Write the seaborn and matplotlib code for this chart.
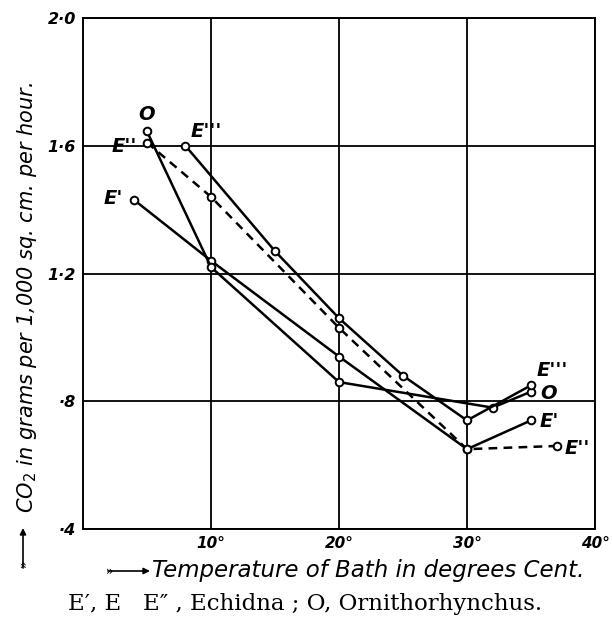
import numpy as np
import pandas as pd
import matplotlib
matplotlib.use("Agg")
import matplotlib.pyplot as plt
import seaborn as sns

# ---- data ----
e1_temp = [4, 10, 20, 30, 35]
e1_co2 = [1.43, 1.24, 0.94, 0.65, 0.74]
o_temp = [5, 10, 20, 32, 35]
o_co2 = [1.645, 1.22, 0.86, 0.78, 0.83]
e2_temp = [5, 10, 20, 30, 37]
e2_co2 = [1.61, 1.44, 1.03, 0.65, 0.66]
e3_temp = [8, 15, 20, 25, 30, 35]
e3_co2 = [1.60, 1.27, 1.06, 0.88, 0.74, 0.85]

series_names = ["E'", "O", "E''", "E'''"]

x_ticks = [10, 20, 30, 40]
x_tick_labels = ["10\u00b0", "20\u00b0", "30\u00b0", "40\u00b0"]
y_ticks = [0.4, 0.8, 1.2, 1.6, 2.0]
y_tick_labels = ["\u00b74", "\u00b78", "1\u00b72", "1\u00b76", "2\u00b70"]

x_label = "Temperature of Bath in degrees Cent."
y_label = "CO$_2$ in grams per 1,000 sq. cm. per hour."
caption = "E\u2032, E   E\u2033 , Echidna ; O, Ornithorhynchus."

# ---- figure ----
sns.set_style("white")
plt.rcParams["font.family"] = ["DejaVu Sans"]
for k in ["text.color", "axes.labelcolor", "xtick.color", "ytick.color"]:
    plt.rcParams[k] = "black"

fig = plt.figure(figsize=(6.12, 6.19), dpi=100)
ax = fig.add_axes([83 / 612, 1 - 529 / 619, 512 / 612, 511 / 619])

series = [
    (series_names[0], e1_temp, e1_co2, "-"),
    (series_names[1], o_temp, o_co2, "-"),
    (series_names[2], e2_temp, e2_co2, (0, (3.5, 2.5))),
    (series_names[3], e3_temp, e3_co2, "-"),
]
for name, xs, ys, ls in series:
    df = pd.DataFrame({"temp": xs, "co2": ys})
    sns.lineplot(data=df, x="temp", y="co2", ax=ax, color="black",
                 linewidth=1.8, linestyle=ls, marker="o", markersize=5.5,
                 markerfacecolor="white", markeredgecolor="black",
                 markeredgewidth=1.4, legend=False)

ax.set_xlim(0, 40)
ax.set_ylim(0.4, 2.0)
ax.set_xticks(x_ticks)
ax.set_xticklabels(x_tick_labels, fontsize=11, fontweight="bold", style="italic")
ax.set_yticks(y_ticks)
ax.set_yticklabels(y_tick_labels, fontsize=11.5, fontweight="bold", style="italic")
ax.tick_params(length=0, pad=5)
ax.grid(True, color="black", linewidth=1.3)
for sp in ax.spines.values():
    sp.set_visible(True)
    sp.set_color("black")
    sp.set_linewidth(1.4)

# series labels
lab_kw = dict(textcoords="offset points", fontsize=14, fontweight="bold",
              style="italic", ha="center", va="center")
ax.annotate(series_names[1], (o_temp[0], o_co2[0]), xytext=(0, 12), **lab_kw)
ax.annotate(series_names[2], (e2_temp[0], e2_co2[0]), xytext=(-16, -3), **lab_kw)
ax.annotate(series_names[3], (e3_temp[0], e3_co2[0]), xytext=(15, 10), **lab_kw)
ax.annotate(series_names[0], (e1_temp[0], e1_co2[0]), xytext=(-15, 1), **lab_kw)
ax.annotate(series_names[3], (e3_temp[-1], e3_co2[-1]), xytext=(15, 11), **lab_kw)
ax.annotate(series_names[1], (o_temp[-1], o_co2[-1]), xytext=(13, -1), **lab_kw)
ax.annotate(series_names[0], (e1_temp[-1], e1_co2[-1]), xytext=(13, -1), **lab_kw)
ax.annotate(series_names[2], (e2_temp[-1], e2_co2[-1]), xytext=(15, -2), **lab_kw)

# axis labels
ax.set_xlabel(x_label, fontsize=16.5, style="italic", ha="left", va="center")
ax.xaxis.set_label_coords((152 - 83) / 512, (529 - 571) / 511)
ax.set_ylabel(y_label, fontsize=15, style="italic", ha="center", va="center")
ax.yaxis.set_label_coords((27 - 83) / 512, (529 - 297) / 511)

# arrows by the axis labels
ax.annotate("", xy=(150 / 612, 1 - 571 / 619), xytext=(108 / 612, 1 - 571 / 619),
            xycoords="figure fraction", textcoords="figure fraction",
            arrowprops=dict(arrowstyle="-|>", lw=1.2, color="black",
                            mutation_scale=9, shrinkA=0, shrinkB=0))
fig.text(110 / 612, 1 - 571 / 619, "\u00bb", fontsize=9, ha="center", va="center")
ax.annotate("", xy=(23 / 612, 1 - 528 / 619), xytext=(23 / 612, 1 - 568 / 619),
            xycoords="figure fraction", textcoords="figure fraction",
            arrowprops=dict(arrowstyle="-|>", lw=1.2, color="black",
                            mutation_scale=9, shrinkA=0, shrinkB=0))
fig.text(23 / 612, 1 - 563 / 619, "\u00bb", fontsize=9, ha="center", va="center",
         rotation=90)

# caption
fig.text(305 / 612, 1 - 604 / 619, caption, fontsize=16.5, family="DejaVu Serif",
         ha="center", va="center")

fig.savefig("out.png", dpi=100)
